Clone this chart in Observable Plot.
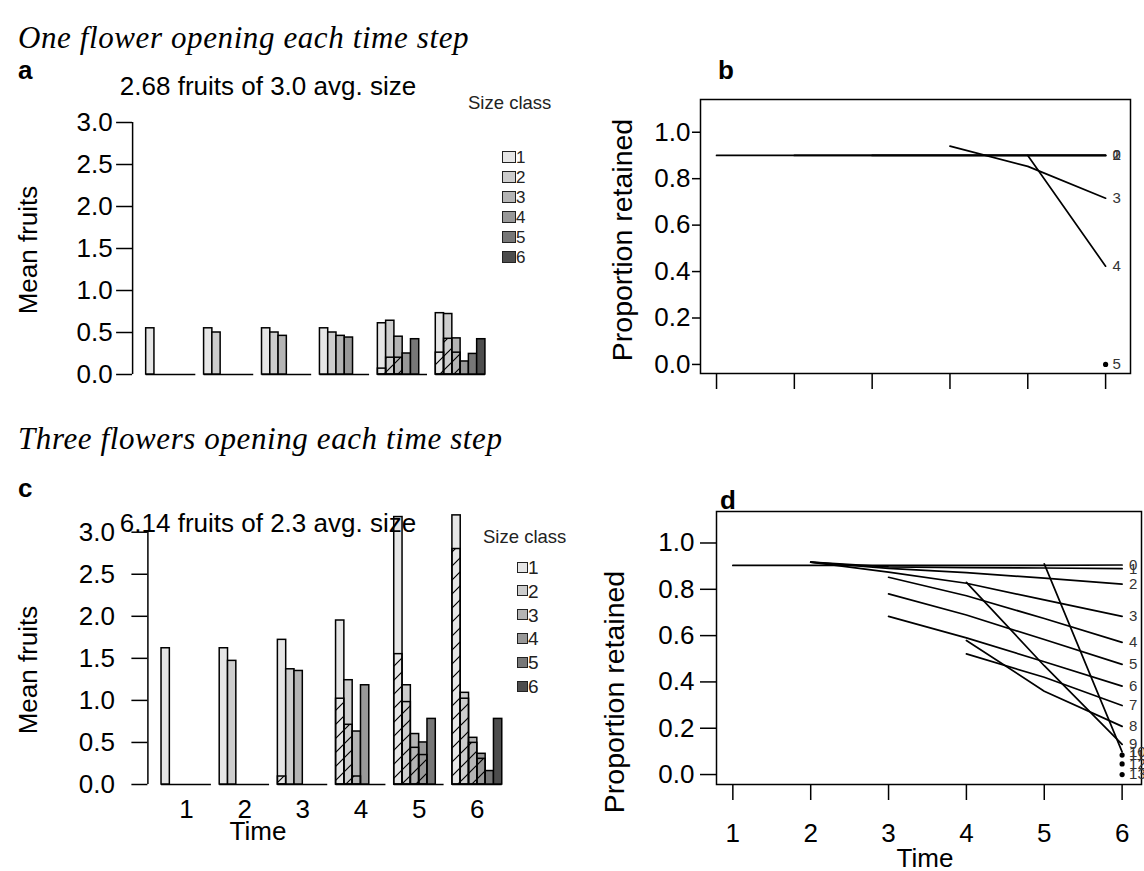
<!DOCTYPE html>
<html><head><meta charset="utf-8">
<script src="https://cdn.jsdelivr.net/npm/d3@7"></script>
<script src="https://cdn.jsdelivr.net/npm/@observablehq/plot@0.6"></script>
<style>
body{margin:0;background:#fff;}
#root{position:relative;width:1144px;height:871px;overflow:hidden;font-family:"Liberation Sans",Arial,sans-serif;color:#000;background:#fff;}
.t{position:absolute;white-space:nowrap;line-height:1;}
.pl{position:absolute;overflow:visible;}
.box{position:absolute;box-sizing:border-box;border:1.6px solid #222;}
</style></head><body>
<svg width="0" height="0" style="position:absolute">
<defs><pattern id="hatch" patternUnits="userSpaceOnUse" width="14" height="14">
<path d="M0,14L14,0M-3.5,3.5L3.5,-3.5M10.5,17.5L17.5,10.5" stroke="#000" stroke-width="1.2" fill="none"/></pattern></defs></svg>
<div id="root"></div>
<script>
// ---------- data ----------
const times = [1, 2, 3, 4, 5, 6];
const sizeClasses = [1, 2, 3, 4, 5, 6];
const classGreys = ["#e6e6e6", "#cdcdcd", "#b4b4b4", "#989898", "#777777", "#4d4d4d"];

// panel a: one flower per step, mean fruits by size class (rows = time)
const meanFruitsA = [
  [0.55, 0, 0, 0, 0, 0],
  [0.55, 0.50, 0, 0, 0, 0],
  [0.55, 0.50, 0.46, 0, 0, 0],
  [0.55, 0.50, 0.46, 0.44, 0, 0],
  [0.61, 0.64, 0.45, 0.25, 0.42, 0],
  [0.73, 0.72, 0.43, 0.155, 0.245, 0.42]
];
const hatchedA = [
  [0, 0, 0, 0, 0, 0],
  [0, 0, 0, 0, 0, 0],
  [0, 0, 0, 0, 0, 0],
  [0, 0, 0, 0, 0, 0],
  [0.07, 0.20, 0.20, 0, 0, 0],
  [0.26, 0.425, 0.26, 0, 0, 0]
];
// panel c: three flowers per step
const meanFruitsC = [
  [1.62, 0, 0, 0, 0, 0],
  [1.62, 1.47, 0, 0, 0, 0],
  [1.72, 1.37, 1.35, 0, 0, 0],
  [1.95, 1.24, 0.63, 1.18, 0, 0],
  [3.18, 1.18, 0.60, 0.50, 0.78, 0],
  [3.20, 1.09, 0.555, 0.365, 0.16, 0.78]
];
const hatchedC = [
  [0, 0, 0, 0, 0, 0],
  [0, 0, 0, 0, 0, 0],
  [0.095, 0, 0, 0, 0, 0],
  [1.02, 0.71, 0.095, 0, 0, 0],
  [1.55, 0.98, 0.436, 0.35, 0, 0],
  [2.80, 1.02, 0.495, 0.305, 0, 0]
];
const meanTicks = [0, 0.5, 1, 1.5, 2, 2.5, 3];
const propTicks = [0, 0.2, 0.4, 0.6, 0.8, 1.0];

// panel b: proportion retained per cohort (start time, values from start to time 6)
const cohortLabelsB = ["0", "1", "2", "3", "4", "5"];
const cohortStartB = [1, 2, 3, 4, 5, 6];
const cohortValuesB = [
  [0.90, 0.90, 0.90, 0.90, 0.90, 0.90],
  [0.90, 0.90, 0.90, 0.90, 0.90],
  [0.90, 0.90, 0.90, 0.90],
  [0.94, 0.853, 0.716],
  [0.90, 0.423],
  [0.0]
];
// panel d
const cohortLabelsD = ["0","1","2","3","4","5","6","7","8","9","10","11","12","13"];
const cohortStartD = [1, 2, 2, 2, 3, 3, 3, 4, 4, 4, 5, 6, 6, 6];
const cohortValuesD = [
  [0.903, 0.903, 0.903, 0.903, 0.903, 0.905],
  [0.917, 0.897, 0.894, 0.892, 0.889],
  [0.917, 0.890, 0.872, 0.848, 0.822],
  [0.917, 0.874, 0.826, 0.754, 0.683],
  [0.852, 0.772, 0.674, 0.571],
  [0.780, 0.689, 0.583, 0.476],
  [0.683, 0.590, 0.487, 0.382],
  [0.521, 0.420, 0.298],
  [0.579, 0.360, 0.208],
  [0.830, 0.470, 0.130],
  [0.910, 0.098],
  [0.084],
  [0.046],
  [0.0]
];

// ---------- helpers ----------
const root = document.getElementById("root");
function txt(str, x, y, o = {}) {
  const el = document.createElement("div");
  el.className = "t";
  el.textContent = str;
  el.style.left = x + "px";
  el.style.top = y + "px";
  el.style.fontSize = (o.size || 26) + "px";
  if (o.family) el.style.fontFamily = o.family;
  if (o.italic) el.style.fontStyle = "italic";
  if (o.bold) el.style.fontWeight = "bold";
  if (o.ls) el.style.letterSpacing = o.ls + "px";
  if (o.color) el.style.color = o.color;
  const ax = o.anchor === "middle" ? "-50%" : o.anchor === "end" ? "-100%" : "0";
  el.style.transform = `translate(${ax},-50%)` + (o.rotate ? ` rotate(${o.rotate}deg)` : "");
  root.appendChild(el);
}
function place(svg, left, top) {
  svg.classList.add("pl");
  svg.style.left = left + "px";
  svg.style.top = top + "px";
  root.appendChild(svg);
}
const font = "Liberation Sans, Arial, sans-serif";

// bar table: R barplot(beside) layout, one empty slot between time groups
function barRows(mean, hatch) {
  const rows = [];
  times.forEach((t, g) => sizeClasses.forEach((s, k) => {
    rows.push({time: t, size: s, slot: g * 7 + 1 + k, mean: mean[g][k], hatched: hatch[g][k]});
  }));
  return rows;
}
const barXDomain = [1 - 0.04 * 41, 42 + 0.04 * 41];

function barPanel(mean, hatch, o) {
  const rows = barRows(mean, hatch);
  const marks = [
    Plot.ruleY(times, {y: 0, x1: t => (t - 1) * 7 + 1, x2: t => (t - 1) * 7 + 7, stroke: "#000", strokeWidth: 1.5}),
    Plot.rect(rows.filter(d => d.mean > 0), {x1: "slot", x2: d => d.slot + 1, y1: 0, y2: "mean", fill: "size", stroke: "#000", strokeWidth: 1.5}),
    Plot.rect(rows.filter(d => d.hatched > 0), {x1: "slot", x2: d => d.slot + 1, y1: 0, y2: "hatched", fill: "url(#hatch)", stroke: "#000", strokeWidth: 1.5}),
    Plot.ruleX([barXDomain[0]], {y1: 0, y2: 3, stroke: "#000", strokeWidth: 1.5}),
    Plot.axisY({ticks: meanTicks, tickSize: 16, tickPadding: o.yPad, tickFormat: d => d.toFixed(1), fontSize: 26, strokeWidth: 1.5, label: null})
  ];
  if (o.xLabels) marks.push(Plot.axisX({ticks: times.map(t => (t - 1) * 7 + 4), tickSize: 0, tickPadding: 15, tickFormat: d => String((d - 4) / 7 + 1), fontSize: 26, label: null}));
  return Plot.plot({
    width: o.width, height: o.height,
    marginLeft: o.ml, marginRight: o.mr, marginTop: o.mt, marginBottom: o.mb,
    x: {domain: barXDomain, axis: o.xLabels ? undefined : null},
    y: {domain: [0, 3]},
    color: {type: "ordinal", domain: sizeClasses, range: classGreys},
    style: {fontFamily: font, fontSize: "26px", background: "transparent", color: "#000", overflow: "visible"},
    marks
  });
}

function retainPanel(labels, starts, values, o) {
  const rows = values.flatMap((vals, i) => vals.map((v, j) => ({cohort: i, time: starts[i] + j, value: v})));
  const ends = values.map((vals, i) => ({label: labels[i], time: starts[i] + vals.length - 1, value: vals[vals.length - 1], single: vals.length === 1}));
  return Plot.plot({
    width: o.width, height: o.height,
    marginLeft: o.ml, marginRight: o.mr, marginTop: o.mt, marginBottom: o.mb,
    x: {domain: o.xDomain},
    y: {domain: o.yDomain},
    style: {fontFamily: font, fontSize: "26px", background: "transparent", color: "#000", overflow: "visible"},
    marks: [
      Plot.frame({stroke: "#000", strokeWidth: 1.5}),
      Plot.axisY({ticks: propTicks, tickSize: o.yTick, tickPadding: o.yPad, tickFormat: d => d.toFixed(1), fontSize: 26, strokeWidth: 1.5, label: null}),
      Plot.axisX({ticks: times, tickSize: 16, tickPadding: o.xPad, tickFormat: o.xLabels ? d => String(d) : () => "", fontSize: 26, strokeWidth: 1.5, label: null}),
      Plot.line(rows, {x: "time", y: "value", z: "cohort", stroke: "#000", strokeWidth: 1.7}),
      Plot.dot(ends.filter(d => d.single), {x: "time", y: "value", r: 2.6, fill: "#000", stroke: "none"}),
      Plot.text(ends, {x: "time", y: "value", text: "label", dx: 7, textAnchor: "start", fontSize: 15, fill: "#333"})
    ]
  });
}

// ---------- panel a ----------
place(barPanel(meanFruitsA, hatchedA, {width: 520, height: 300, ml: 132.1, mr: 21.5, mt: 22, mb: 26, yPad: 4, xLabels: false}), 0, 100);
// ---------- panel c ----------
place(barPanel(meanFruitsC, hatchedC, {width: 520, height: 340, ml: 147.4, mr: 4.6, mt: 31.7, mb: 56, yPad: 17, xLabels: true}), 0, 500);
// ---------- panel b ----------
place(retainPanel(cohortLabelsB, cohortStartB, cohortValuesB, {width: 544, height: 330, ml: 100, mr: 14, mt: 19, mb: 37, xDomain: [0.794, 6.32], yDomain: [-0.039, 1.141], xLabels: false, xPad: 10, yTick: 8, yPad: 2}), 600, 80);
// ---------- panel d ----------
place(retainPanel(cohortLabelsD, cohortStartD, cohortValuesD, {width: 544, height: 381, ml: 116, mr: 3, mt: 21, mb: 87, xDomain: [0.79, 6.249], yDomain: [-0.043, 1.136], xLabels: true, xPad: 23, yTick: 16, yPad: 6}), 600, 490);

// ---------- texts ----------
const serif = "Liberation Serif, serif";
txt("One flower opening each time step", 18, 37, {size: 31, italic: true, family: serif, ls: 0.6});
txt("Three flowers opening each time step", 18, 438, {size: 31, italic: true, family: serif, ls: 0.6});
txt("a", 18, 70, {size: 26, bold: true});
txt("b", 718, 70, {size: 26, bold: true});
txt("c", 18, 488, {size: 26, bold: true});
txt("d", 720, 500, {size: 26, bold: true});
txt("2.68 fruits of 3.0 avg. size", 268, 86, {size: 26, anchor: "middle"});
txt("6.14 fruits of 2.3 avg. size", 268, 523, {size: 26, anchor: "middle"});
txt("Mean fruits", 28, 250, {size: 26, anchor: "middle", rotate: -90});
txt("Mean fruits", 28, 670, {size: 26, anchor: "middle", rotate: -90});
txt("Proportion retained", 622, 240, {size: 28.5, anchor: "middle", rotate: -90});
txt("Proportion retained", 614, 692, {size: 28.5, anchor: "middle", rotate: -90});
txt("Time", 258, 831, {size: 26, anchor: "middle"});
txt("Time", 925, 858, {size: 26, anchor: "middle"});

// ---------- legends ----------
function legend(x, y, boxX, textX, rowY0, step, bw, bh, titleSize, labSize) {
  txt("Size class", x, y, {size: titleSize, color: "#222"});
  sizeClasses.forEach((s, i) => {
    const b = document.createElement("div");
    b.className = "box";
    b.style.left = boxX + "px";
    b.style.top = (rowY0 + step * i - bh / 2) + "px";
    b.style.width = bw + "px";
    b.style.height = bh + "px";
    b.style.background = classGreys[i];
    root.appendChild(b);
    txt(String(s), textX, rowY0 + step * i, {size: labSize, color: "#222"});
  });
}
legend(468, 103, 502, 516, 157, 20, 14, 12, 18.5, 17);
legend(483, 537, 517, 528, 567, 23.8, 11, 11, 18.5, 19);
</script>
</body></html>
